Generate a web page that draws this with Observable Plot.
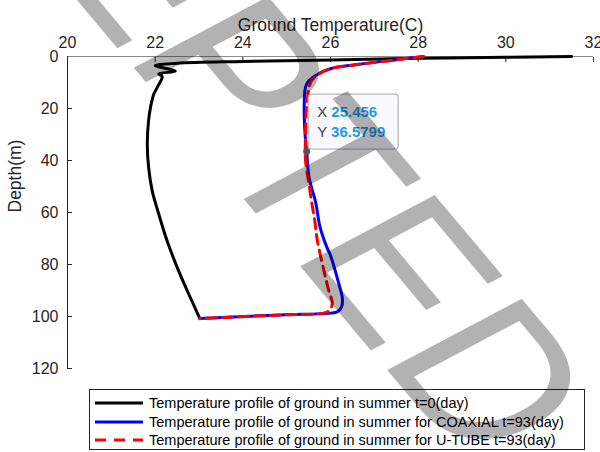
<!DOCTYPE html>
<html>
<head>
<meta charset="utf-8">
<script src="https://cdn.jsdelivr.net/npm/d3@7"></script>
<script src="https://cdn.jsdelivr.net/npm/@observablehq/plot@0.6"></script>
<style>
  body { margin: 0; background: #fff; }
  #wrap { position: relative; width: 600px; height: 452px; overflow: hidden;
          font-family: "Liberation Sans", Arial, sans-serif; background: #fff; }
  #legend { position: absolute; left: 89px; top: 389px; width: 494px; height: 59px;
            border: 1px solid #262626; background: #fff; }
  .row { position: absolute; left: 0; height: 18px; display: flex; align-items: center;
         font-size: 14.5px; color: #000; white-space: nowrap; }
  .row svg { margin-left: 5px; margin-right: 6px; }
  #mark { position: absolute; left: 0; top: 0; pointer-events: none; }
</style>
</head>
<body>
<div id="wrap"></div>
<script>
// Axis ticks
const tempTicks = [20, 22, 24, 26, 28, 30, 32];
const depthTicks = [0, 20, 40, 60, 80, 100, 120];

// Initial ground temperature profile, t = 0 (day)
const initTemp  = [31.5, 30.0, 28.0, 26.0, 24.0, 22.5, 22.0, 22.46, 22.08, 22.16, 22.05, 21.97, 21.90, 21.85, 21.82, 21.85, 21.93, 22.08, 22.27, 22.50, 22.73, 23.02];
const initDepth = [0.0, 0.3, 0.7, 1.3, 1.9, 2.6, 3.5, 5.65, 6.65, 7.7, 11.8, 14.4, 19.0, 24.6, 33.6, 42.6, 51.5, 60.5, 70.8, 81.0, 90.0, 100.8];

// COAXIAL exchanger, t = 93 (day)
const coaxTemp  = [28.12, 27.37, 26.61, 26.00, 25.70, 25.51, 25.43, 25.40, 25.42, 25.456, 25.51, 25.66, 25.76, 25.92, 26.00, 26.19, 26.27, 26.25, 26.15, 26.00, 24.86, 23.02];
const coaxDepth = [0.0, 1.5, 3.1, 4.7, 6.9, 9.2, 11.8, 20.0, 30.0, 36.5799, 46.4, 56.0, 65.5, 73.5, 76.5, 87.4, 93.0, 96.5, 98.2, 98.7, 99.4, 100.8];

// U-TUBE exchanger, t = 93 (day)
const utubeTemp  = [28.12, 27.37, 26.61, 26.00, 25.72, 25.56, 25.50, 25.45, 25.43, 25.43, 25.50, 25.56, 25.64, 25.70, 25.85, 25.96, 26.04, 26.02, 25.95, 25.80, 24.86, 23.02];
const utubeDepth = [0.0, 1.5, 3.1, 4.7, 6.9, 9.5, 13.0, 20.0, 30.0, 40.0, 48.0, 55.0, 63.0, 70.8, 82.3, 90.0, 94.5, 96.5, 98.0, 98.8, 99.4, 100.8];

// Data tip
const tipTemp = 25.456;
const tipDepth = 36.5799;

const seriesNames = [
  "Temperature profile of ground in summer t=0(day)",
  "Temperature profile of ground in summer for COAXIAL t=93(day)",
  "Temperature profile of ground in summer for U-TUBE t=93(day)"
];
const seriesColors = ["#000000", "#0000ff", "#ff0000"];
const seriesDash = [null, null, "10,6"];

const toRows = (ts, ds) => ts.map((t, i) => ({t, d: ds[i]}));
const initRows = toRows(initTemp, initDepth);
const coaxRows = toRows(coaxTemp, coaxDepth);
const utubeRows = toRows(utubeTemp, utubeDepth);

const FONT = '"Liberation Sans", Arial, sans-serif';
const axisColor = "#262626";

const plot = Plot.plot({
  width: 600,
  height: 385,
  marginTop: 56,
  marginLeft: 67,
  marginRight: 7,
  marginBottom: 17,
  style: {fontFamily: FONT, fontSize: "16px", color: axisColor, background: "transparent", overflow: "visible"},
  x: {domain: [20, 32]},
  y: {domain: [0, 120], reverse: true},
  marks: [
    Plot.axisX(tempTicks, {anchor: "top", tickSize: -5, tickPadding: 14, label: null, fontSize: 16, stroke: axisColor, color: axisColor}),
    Plot.axisY(depthTicks, {anchor: "left", tickSize: -5, tickPadding: 14, label: null, fontSize: 16, stroke: axisColor, color: axisColor}),
    Plot.ruleY([0], {stroke: "#8c8c8c", strokeWidth: 1}),
    Plot.ruleX([20], {stroke: axisColor, strokeWidth: 1}),
    Plot.text(["Ground Temperature(C)"], {frameAnchor: "top", dy: -38, fontSize: 17.5, fill: axisColor}),
    Plot.text(["Depth(m)"], {frameAnchor: "left", dx: -52, rotate: -90, fontSize: 17.5, fill: axisColor}),
    Plot.line(initRows, {x: "t", y: "d", stroke: seriesColors[0], strokeWidth: 3, curve: "catmull-rom"}),
    Plot.line(coaxRows, {x: "t", y: "d", stroke: seriesColors[1], strokeWidth: 3, curve: "catmull-rom"}),
    Plot.line(utubeRows, {x: "t", y: "d", stroke: seriesColors[2], strokeWidth: 3, strokeDasharray: seriesDash[2], curve: "catmull-rom"}),
    Plot.dot([{t: tipTemp, d: tipDepth}], {x: "t", y: "d", r: 3.5, fill: "#555555", stroke: "none"})
  ]
});

const wrap = document.getElementById("wrap");
wrap.appendChild(plot);

// Data tip box positioned from the scales
const sx = plot.scale("x"), sy = plot.scale("y");
const px = sx.apply(tipTemp), py = sy.apply(tipDepth);
const tip = d3.select(plot).append("g")
  .attr("font-family", FONT).attr("font-size", 15).attr("text-anchor", "start");
tip.append("rect")
  .attr("x", px + 2).attr("y", py - 57).attr("width", 90).attr("height", 55)
  .attr("rx", 3).attr("fill", "#f9f9ff").attr("fill-opacity", 0.95)
  .attr("stroke", "#a6a6a6").attr("stroke-width", 1);
[["X", tipTemp.toFixed(3), -39], ["Y", String(tipDepth), -19]].forEach(([k, v, dy]) => {
  const t = tip.append("text").attr("x", px + 11).attr("y", py + dy)
    .attr("dy", "0.35em").attr("text-anchor", "start");
  t.append("tspan").attr("fill", "#404040").text(k + " ");
  t.append("tspan").attr("fill", "#1f9be6").attr("font-weight", "bold").text(v);
});

// Legend
const legend = document.createElement("div");
legend.id = "legend";
seriesNames.forEach((name, i) => {
  const row = document.createElement("div");
  row.className = "row";
  row.style.top = (4 + i * 18.5) + "px";
  const dash = seriesDash[i] ? ` stroke-dasharray="11,8"` : "";
  row.innerHTML = `<svg width="48" height="8"><line x1="0" y1="4" x2="48" y2="4" stroke="${seriesColors[i]}" stroke-width="3"${dash}/></svg><span>${name}</span>`;
  legend.appendChild(row);
});
wrap.appendChild(legend);

// Diagonal stamp across the page (rotated, then squashed vertically)
const stamp = d3.create("svg").attr("id", "mark").attr("width", 600).attr("height", 452);
const g = stamp.append("g").attr("transform", "translate(123,55) scale(1,0.795) rotate(56.3)")
  .attr("font-family", FONT).attr("font-size", 235).attr("fill", "#000").attr("fill-opacity", 0.3);
g.append("text").attr("text-anchor", "end").text("ACCE");
g.append("text").attr("text-anchor", "start").text("PTED");
wrap.appendChild(stamp.node());
</script>
</body>
</html>
